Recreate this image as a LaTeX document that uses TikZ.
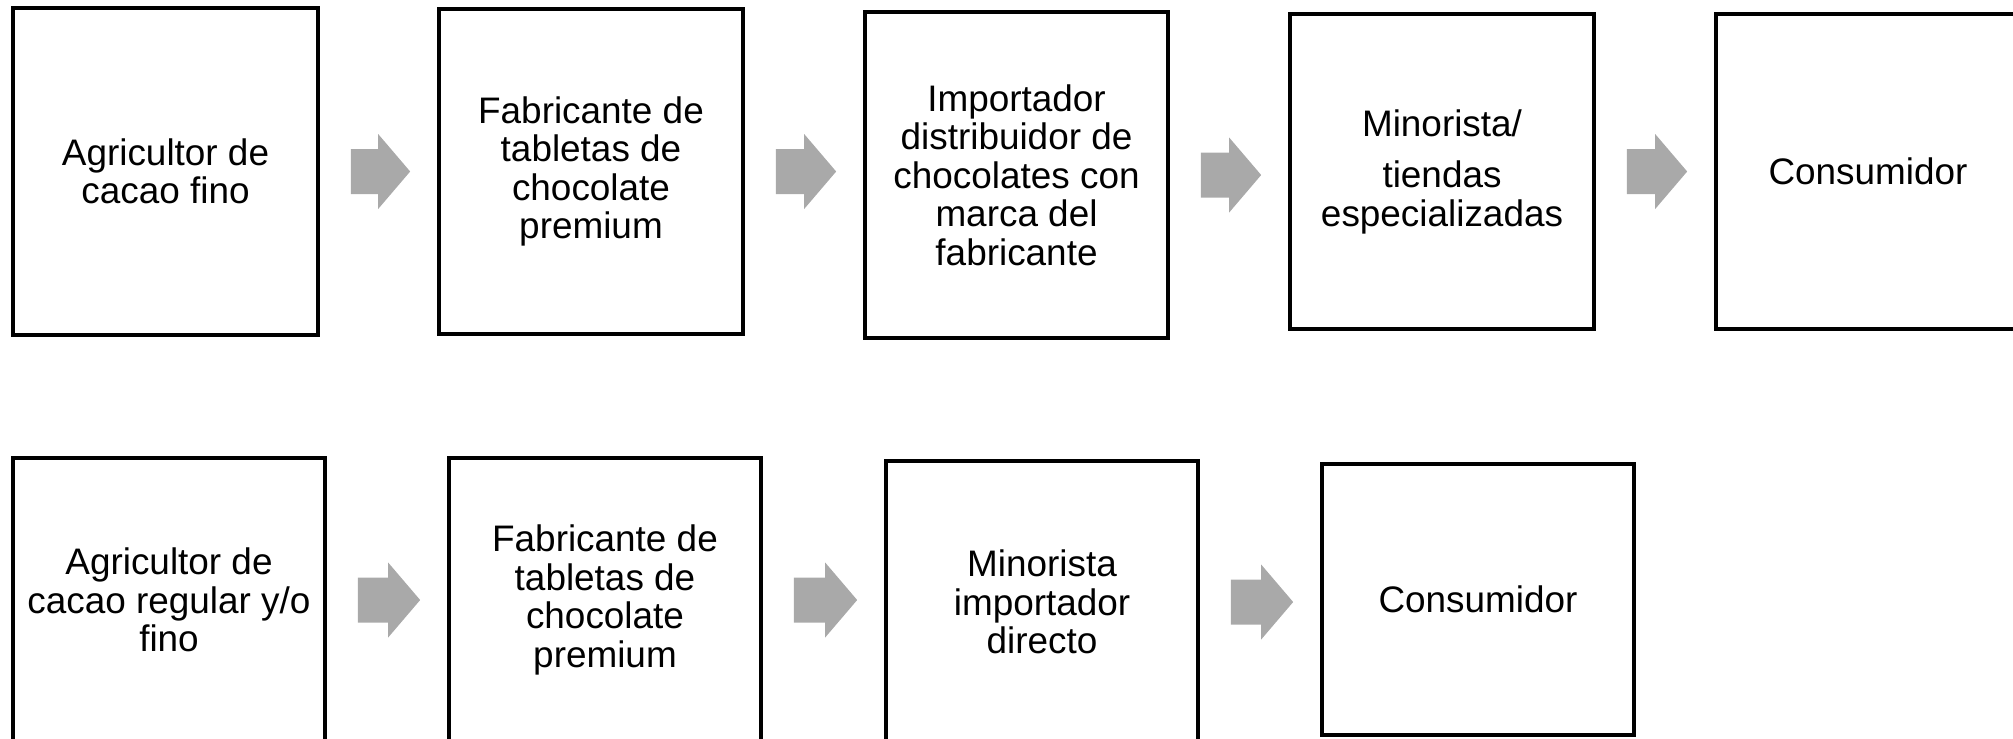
\documentclass[tikz,border=0pt]{standalone}
\usepackage{fontspec}
\setmainfont{Liberation Sans}
\usetikzlibrary{calc}
\definecolor{grisfreccia}{HTML}{A9A9A9}
\tikzset{
  casella/.style={draw, line width=1.05pt, align=center, inner sep=0pt,
    minimum width=3.04cm, font=\fontsize{10.5pt}{10.95pt}\selectfont},
  freccia/.style={fill=grisfreccia},
}

\begin{document}
\begin{tikzpicture}
  \useasboundingbox (0,0) rectangle (20.13,-7.38);
  % Riga superiore
  \node[casella, minimum width=3.05cm, minimum height=3.27cm] (b1) at (1.655,-1.715) {Agricultor de\\cacao fino};
  \node[casella, minimum height=3.25cm] (b2) at (5.91,-1.715) {Fabricante de\\tabletas de\\chocolate\\premium};
  \node[casella, minimum width=3.03cm, minimum height=3.26cm] (b3) at (10.165,-1.75) {Importador\\distribuidor de\\chocolates con\\marca del\\fabricante};
  \node[casella, minimum height=3.15cm] (b4) at (14.42,-1.715) {Minorista/\\[0.13cm]tiendas\\especializadas};
  \node[casella, minimum height=3.15cm] (b5) at (18.68,-1.715) {Consumidor};
  % Riga inferiore
  \node[casella, minimum width=3.12cm, minimum height=2.84cm] (c1) at (1.69,-6.0) {Agricultor de\\cacao regular y/o\\fino};
  \node[casella, minimum width=3.12cm, minimum height=2.84cm] (c2) at (6.05,-6.0) {Fabricante de\\tabletas de\\chocolate\\premium};
  \node[casella, minimum width=3.12cm, minimum height=2.82cm] (c3) at (10.42,-6.02) {Minorista\\importador\\directo};
  \node[casella, minimum width=3.12cm, minimum height=2.71cm] (c4) at (14.78,-5.995) {Consumidor};
  % Frecce
  \foreach \a/\b in {b1/b2,b2/b3,b3/b4,b4/b5,c1/c2,c2/c3,c3/c4}{
    \coordinate (ini) at ($(\a.east)+(0.31,0)$);
    \coordinate (fin) at ($(\a.east -| \b.west)+(-0.27,0)$);
    \fill[freccia] ($(ini)+(0,0.225)$) -- ($(fin)+(-0.32,0.225)$) -- ($(fin)+(-0.32,0.375)$) -- (fin)
      -- ($(fin)+(-0.32,-0.375)$) -- ($(fin)+(-0.32,-0.225)$) -- ($(ini)+(0,-0.225)$) -- cycle;
  }
\end{tikzpicture}
\end{document}
